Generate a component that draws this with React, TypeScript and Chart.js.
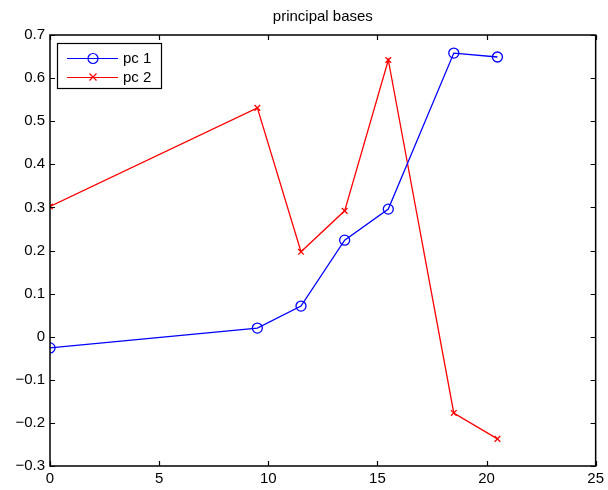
import React, { useEffect, useRef } from "react";
import { Chart, registerables } from "chart.js";

Chart.register(...registerables);

const xValues = [0, 9.5, 11.5, 13.5, 15.5, 18.5, 20.5];
const pc1Values = [-0.026, 0.02, 0.071, 0.224, 0.296, 0.658, 0.649];
const pc2Values = [0.302, 0.531, 0.197, 0.292, 0.642, -0.177, -0.237];
const seriesNames = ["pc 1", "pc 2"];
const titleText = "principal bases";

const FONT = '"Liberation Sans", Arial, Helvetica, sans-serif';

function fmtY(v: number): string {
  const r = Math.round(v * 10) / 10;
  if (Math.abs(r) < 1e-9) return "0";
  const s = Math.abs(r).toFixed(1);
  return r < 0 ? "\u2212" + s : s;
}

const framePlugin = {
  id: "matlabFrame",
  afterDraw(chart: any) {
    const { ctx, chartArea } = chart;
    const { left, right, top, bottom } = chartArea;
    const xs = chart.scales.x;
    const ys = chart.scales.y;
    ctx.save();
    ctx.strokeStyle = "#000";
    ctx.lineWidth = 1.5;
    ctx.beginPath();
    ctx.rect(left, top, right - left, bottom - top);
    ctx.stroke();
    ctx.lineWidth = 1.2;
    const tl = 5;
    xs.ticks.forEach((t: any) => {
      const px = Math.round(xs.getPixelForValue(t.value)) + 0.5;
      ctx.beginPath();
      ctx.moveTo(px, bottom);
      ctx.lineTo(px, bottom - tl);
      ctx.moveTo(px, top);
      ctx.lineTo(px, top + tl);
      ctx.stroke();
    });
    ys.ticks.forEach((t: any) => {
      const py = Math.round(ys.getPixelForValue(t.value)) + 0.5;
      ctx.beginPath();
      ctx.moveTo(left, py);
      ctx.lineTo(left + tl, py);
      ctx.moveTo(right, py);
      ctx.lineTo(right - tl, py);
      ctx.stroke();
    });

    // title
    ctx.fillStyle = "#000";
    ctx.font = `15px ${FONT}`;
    ctx.textAlign = "center";
    ctx.textBaseline = "middle";
    ctx.fillText(titleText, (left + right) / 2, 17);

    // legend
    const bx = 57, by = 43, bw = 104, bh = 45;
    ctx.fillStyle = "#fff";
    ctx.fillRect(bx, by, bw, bh);
    ctx.strokeStyle = "#000";
    ctx.lineWidth = 1.2;
    ctx.strokeRect(bx + 0.5, by + 0.5, bw, bh);
    const rows = [
      { y: 58, color: "#0000ff", name: seriesNames[0], marker: "circle" },
      { y: 77, color: "#ff0000", name: seriesNames[1], marker: "x" },
    ];
    rows.forEach((r) => {
      ctx.strokeStyle = r.color;
      ctx.lineWidth = 1.2;
      ctx.beginPath();
      ctx.moveTo(67, r.y + 0.5);
      ctx.lineTo(118, r.y + 0.5);
      ctx.stroke();
      const cx = 93;
      ctx.beginPath();
      if (r.marker === "circle") {
        ctx.arc(cx, r.y + 0.5, 5, 0, Math.PI * 2);
      } else {
        ctx.moveTo(cx - 3.5, r.y - 3.5);
        ctx.lineTo(cx + 3.5, r.y + 3.5);
        ctx.moveTo(cx + 3.5, r.y - 3.5);
        ctx.lineTo(cx - 3.5, r.y + 3.5);
      }
      ctx.stroke();
      ctx.fillStyle = "#000";
      ctx.font = `15px ${FONT}`;
      ctx.textAlign = "left";
      ctx.textBaseline = "middle";
      ctx.fillText(r.name, 123, r.y + 1);
    });
    ctx.restore();
  },
};

export default function App() {
  const canvasRef = useRef<HTMLCanvasElement | null>(null);

  useEffect(() => {
    if (!canvasRef.current) return;
    const chart = new Chart(canvasRef.current, {
      type: "line",
      data: {
        datasets: [
          {
            label: seriesNames[0],
            data: xValues.map((x, i) => ({ x, y: pc1Values[i] })),
            borderColor: "#0000ff",
            backgroundColor: "rgba(0,0,0,0)",
            borderWidth: 1.3,
            pointStyle: "circle",
            pointRadius: 5,
            pointBorderColor: "#0000ff",
            pointBackgroundColor: "rgba(0,0,0,0)",
            pointBorderWidth: 1.3,
            tension: 0,
          },
          {
            label: seriesNames[1],
            data: xValues.map((x, i) => ({ x, y: pc2Values[i] })),
            borderColor: "#ff0000",
            backgroundColor: "rgba(0,0,0,0)",
            borderWidth: 1.3,
            pointStyle: "crossRot",
            pointRadius: 4,
            pointBorderColor: "#ff0000",
            pointBorderWidth: 1.3,
            tension: 0,
          },
        ],
      },
      options: {
        responsive: false,
        animation: false,
        layout: { padding: { top: 35, right: 10, left: 0, bottom: 0 } },
        plugins: {
          legend: { display: false },
          title: { display: false },
          tooltip: { enabled: false },
        },
        scales: {
          x: {
            type: "linear",
            min: 0,
            max: 25,
            afterFit: (s: any) => {
              s.height = 24;
            },
            ticks: {
              stepSize: 5,
              color: "#000",
              font: { family: FONT, size: 15 },
              padding: 4,
              maxRotation: 0,
            },
            grid: { display: false, drawTicks: false },
            border: { display: false },
          },
          y: {
            type: "linear",
            min: -0.3,
            max: 0.7,
            afterFit: (s: any) => {
              s.width = 50;
            },
            ticks: {
              stepSize: 0.1,
              color: "#000",
              font: { family: FONT, size: 15 },
              padding: 5,
              callback: (v: any) => fmtY(Number(v)),
            },
            grid: { display: false, drawTicks: false },
            border: { display: false },
          },
        },
      },
      plugins: [framePlugin],
    } as any);
    return () => chart.destroy();
  }, []);

  return (
    <div style={{ position: "fixed", left: 0, top: 0, width: 608, height: 490, background: "#fff" }}>
      <canvas ref={canvasRef} width={608} height={490} />
    </div>
  );
}
